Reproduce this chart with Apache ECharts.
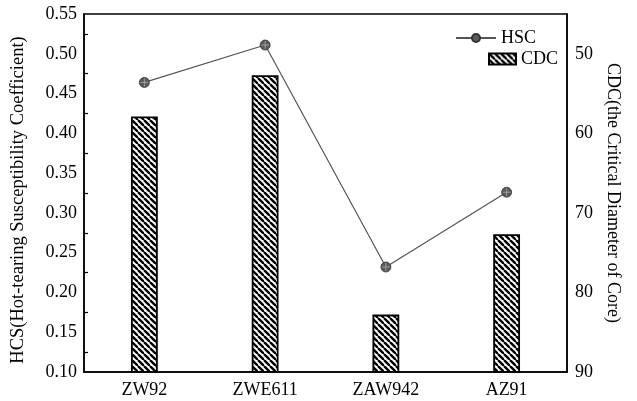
<!DOCTYPE html>
<html>
<head>
<meta charset="utf-8">
<script src="https://cdn.jsdelivr.net/npm/echarts@6/dist/echarts.min.js"></script>
<style>
  html, body { margin: 0; padding: 0; background: #fff; }
  #main { width: 637px; height: 401px; }
</style>
</head>
<body>
<div id="main"></div>
<script>
// data
const categories = ['ZW92', 'ZWE611', 'ZAW942', 'AZ91'];
const hscValues = [0.464, 0.511, 0.232, 0.326];   // left axis (HCS)
const cdcValues = [58, 52.8, 82.9, 72.8];        // right axis (CDC, inverted)
const cdcMajorTicks = [50, 60, 70, 80, 90];
const cdcMinorTicks = [55, 65, 75, 85];

const FONT = "Liberation Serif, Times New Roman, serif";
const CDC_MIN = 45, CDC_MAX = 90;

// hatch pattern "\\\\" for the bars
function makeHatch() {
  const s = 6;
  const c = document.createElement('canvas');
  c.width = s; c.height = s;
  const ctx = c.getContext('2d');
  ctx.fillStyle = '#fff';
  ctx.fillRect(0, 0, s, s);
  ctx.strokeStyle = '#000';
  ctx.lineWidth = 2.4;
  [-s, 0, s].forEach(k => {
    ctx.beginPath();
    ctx.moveTo(k, 0);
    ctx.lineTo(k + s, s);
    ctx.stroke();
  });
  return c;
}
const hatch = { image: makeHatch(), repeat: 'repeat' };

let myChart = echarts.init(document.getElementById('main'));

let option = {
  animation: false,
  backgroundColor: '#fff',
  textStyle: { fontFamily: FONT },
  grid: {
    left: 84, right: 70, top: 14, bottom: 29,
    show: true, borderColor: '#000', borderWidth: 1.5,
    outerBoundsMode: 'none'
  },
  legend: [
    {
      data: ['HSC'],
      left: 455, top: 29, padding: 0,
      itemWidth: 40, itemHeight: 10,
      textStyle: { fontFamily: FONT, fontSize: 18, color: '#000' }
    },
    {
      data: [{ name: 'CDC', icon: 'rect' }],
      left: 488, top: 50, padding: 0,
      itemWidth: 27, itemHeight: 11,
      textStyle: { fontFamily: FONT, fontSize: 18, color: '#000' }
    }
  ],
  xAxis: {
    type: 'category',
    data: categories,
    axisLine: { lineStyle: { color: '#000', width: 1.5 } },
    axisTick: { show: false },
    axisLabel: { color: '#000', fontSize: 18, fontFamily: FONT, margin: 9 }
  },
  yAxis: [
    {
      type: 'value',
      min: 0.1, max: 0.55, interval: 0.05,
      name: 'HCS(Hot-tearing Susceptibility Coefficient)',
      nameLocation: 'middle',
      nameGap: 56,
      nameTextStyle: { color: '#000', fontSize: 18.5, fontFamily: FONT, padding: [0, 14, 0, 0] },
      axisLine: { show: true, lineStyle: { color: '#000', width: 1.5 } },
      axisTick: { inside: true, length: 7, lineStyle: { color: '#000', width: 1.2 } },
      minorTick: { show: true, splitNumber: 2, length: 4, lineStyle: { color: '#000', width: 1.2 } },
      splitLine: { show: false },
      axisLabel: {
        color: '#000', fontSize: 18, fontFamily: FONT, margin: 7,
        formatter: v => v.toFixed(2)
      }
    },
    {
      type: 'value',
      position: 'right',
      inverse: true,
      min: CDC_MIN, max: CDC_MAX, interval: 5,
      name: 'CDC(the Critical Diameter of Core)',
      nameLocation: 'middle',
      nameRotate: -90,
      nameGap: 30,
      nameTextStyle: { color: '#000', fontSize: 18, fontFamily: FONT },
      axisLine: { show: true, lineStyle: { color: '#000', width: 1.5 } },
      axisTick: { inside: true, length: 6, customValues: cdcMajorTicks, lineStyle: { color: '#000', width: 1.2 } },
      splitLine: { show: false },
      axisLabel: { color: '#000', fontSize: 18, fontFamily: FONT, margin: 8, customValues: cdcMajorTicks }
    },
    {
      type: 'value',
      position: 'right',
      inverse: true,
      min: CDC_MIN, max: CDC_MAX, interval: 5,
      axisLine: { show: false },
      axisTick: { inside: true, length: 3, customValues: cdcMinorTicks, lineStyle: { color: '#000', width: 1.2 } },
      splitLine: { show: false },
      axisLabel: { show: false }
    }
  ],
  series: [
    {
      name: 'CDC',
      type: 'custom',
      yAxisIndex: 1,
      itemStyle: { color: hatch, borderColor: '#000', borderWidth: 1.8 },
      data: cdcValues.map((v, i) => [i, v]),
      encode: { x: 0, y: 1 },
      renderItem: function (params, api) {
        let top = api.coord([api.value(0), api.value(1)]);
        let bottom = api.coord([api.value(0), CDC_MAX]);
        let w = 25;
        return {
          type: 'rect',
          shape: { x: top[0] - w / 2, y: top[1], width: w, height: bottom[1] - top[1] },
          style: { fill: hatch, stroke: '#000', lineWidth: 1.8 }
        };
      }
    },
    {
      name: 'HSC',
      type: 'line',
      yAxisIndex: 0,
      data: hscValues,
      symbol: 'circle',
      symbolSize: 10,
      itemStyle: { color: '#5a5a5a', borderColor: '#333', borderWidth: 0.8 },
      lineStyle: { color: '#555', width: 1.2 },
      z: 3
    },
    {
      // cross inside the markers
      name: 'HSC-cross',
      type: 'scatter',
      yAxisIndex: 0,
      data: hscValues,
      symbol: 'path://M0,5L10,5M5,0L5,10',
      symbolSize: 8,
      itemStyle: { color: 'transparent', borderColor: '#b0b0b0', borderWidth: 1 },
      silent: true,
      z: 4
    }
  ]
};

myChart.setOption(option);
</script>
</body>
</html>
